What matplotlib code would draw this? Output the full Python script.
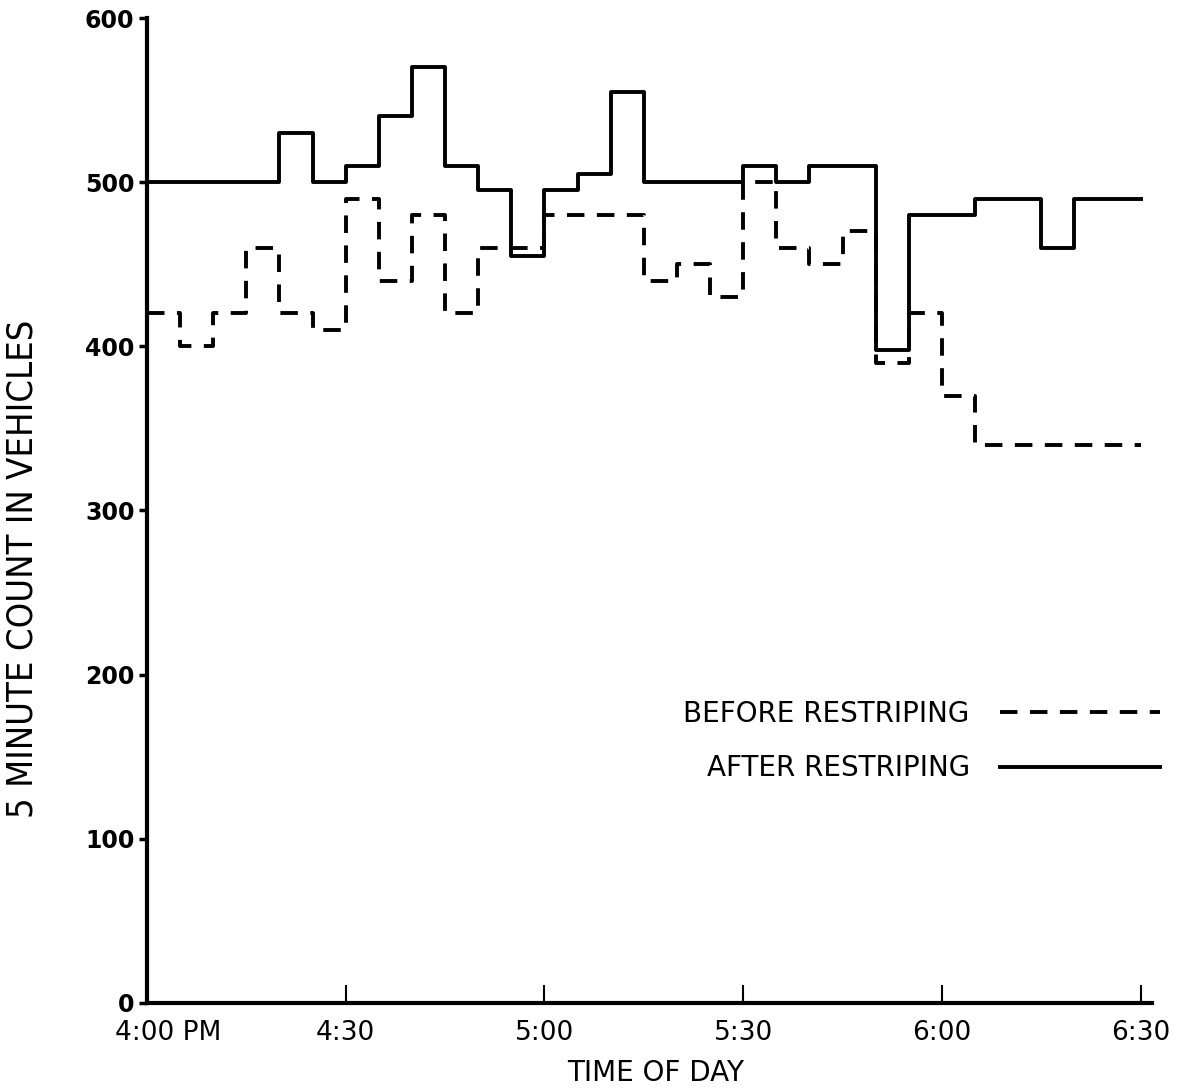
import matplotlib
matplotlib.use('Agg')
import matplotlib.pyplot as plt
from matplotlib.transforms import ScaledTranslation
from matplotlib import font_manager

# ---- data (5-minute counts, 4:00 PM to 6:30 PM) ----
minutes = list(range(0, 151, 5))
before = [420, 400, 420, 460, 420, 410, 490, 440, 480, 420,
          460, 460, 480, 480, 480, 440, 450, 430, 500, 460,
          450, 470, 390, 420, 370, 340, 340, 340, 340, 340]
after = [500, 500, 500, 500, 530, 500, 510, 540, 570, 510,
         495, 455, 495, 505, 555, 500, 500, 500, 510, 500,
         510, 510, 398, 480, 480, 490, 490, 460, 490, 490]
tick_minutes = [0, 30, 60, 90, 120, 150]
tick_labels = ['4:00 PM', '4:30', '5:00', '5:30', '6:00', '6:30']
y_ticks = [0, 100, 200, 300, 400, 500, 600]
y_tick_labels = ['0', '100', '200', '300', '400', '500', '600']

narrow_fp = font_manager.FontProperties(family='DejaVu Sans', stretch='condensed')

fig = plt.figure(figsize=(11.9, 10.92), dpi=100)
ax = fig.add_axes([147/1190, 89/1092, 1005/1190, 985/1092])

ax.step(minutes, before + [before[-1]], where='post', color='black', lw=2.8,
        linestyle=(0, (4.5, 3.2)), label='BEFORE RESTRIPING')
ax.step(minutes, after + [after[-1]], where='post', color='black', lw=2.8,
        label='AFTER RESTRIPING')

ax.set_xlim(0, 151.7)
ax.set_ylim(0, 600)
for s in ['top', 'right']:
    ax.spines[s].set_visible(False)
for s in ['left', 'bottom']:
    ax.spines[s].set_linewidth(3)

ax.set_xticks(tick_minutes)
ax.set_xticklabels(tick_labels, family='DejaVu Sans', fontsize=19)
ax.set_yticks(y_ticks)
ax.set_yticklabels(y_tick_labels, fontsize=17, family='DejaVu Sans', fontweight='bold')
ax.tick_params(axis='x', direction='in', length=13, width=1.5, pad=12)
ax.tick_params(axis='y', direction='out', length=6, width=2.5, pad=3)

lab0 = ax.get_xticklabels()[0]
lab0.set_transform(lab0.get_transform() + ScaledTranslation(21/100, 0, fig.dpi_scale_trans))

ax.set_xlabel('TIME OF DAY', family='DejaVu Sans', fontsize=20)
ax.xaxis.set_label_coords(0.5065, -0.057)
ax.set_ylabel('5 MINUTE COUNT IN VEHICLES', fontproperties=narrow_fp, fontsize=26)
ax.yaxis.set_label_coords(-0.1065, 0.4406)

leg = ax.legend(loc='upper right', bbox_to_anchor=(1160/1190, (1092-700)/1092),
                bbox_transform=fig.transFigure, frameon=False, markerfirst=False,
                fontsize=20, handlelength=5.75, handletextpad=1.1, labelspacing=0.95,
                borderpad=0, borderaxespad=0)

fig.savefig('out.png', dpi=100, facecolor='white')
